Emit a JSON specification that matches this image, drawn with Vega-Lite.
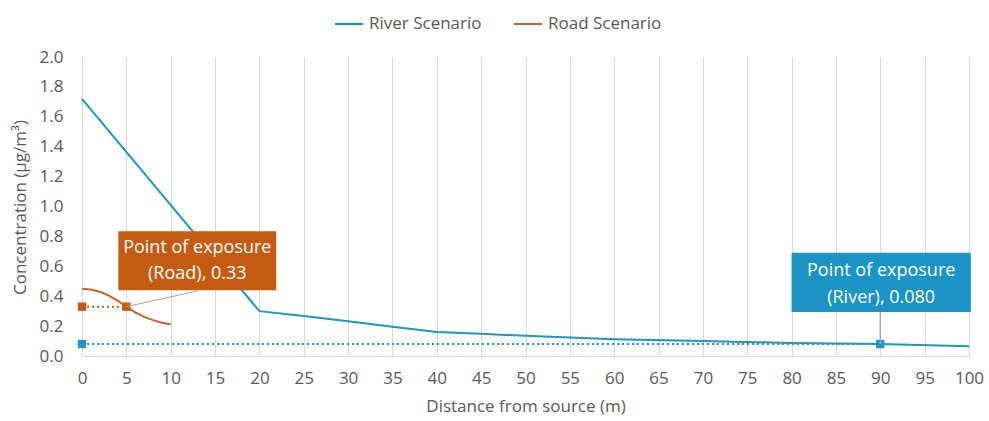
{
  "$schema": "https://vega.github.io/schema/vega-lite/v6.json",
  "width": 887,
  "height": 299,
  "autosize": {"type": "none"},
  "padding": {"left": 82, "top": 57, "right": 20, "bottom": 65},
  "config": {
    "view": {"stroke": null},
    "font": "Open Sans",
    "axis": {"labelColor": "#595959", "titleColor": "#595959", "labelFontSize": 17, "titleFontSize": 17, "titleFontWeight": "normal", "labelFont": "Open Sans", "titleFont": "Open Sans"},
    "legend": {"labelColor": "#595959", "labelFontSize": 17, "labelFont": "Open Sans"}
  },
  "datasets": {
    "series": [
      {"x": 0, "y": 1.72, "series": "River Scenario"},
      {"x": 20, "y": 0.30, "series": "River Scenario"},
      {"x": 25, "y": 0.268, "series": "River Scenario"},
      {"x": 30, "y": 0.232, "series": "River Scenario"},
      {"x": 35, "y": 0.196, "series": "River Scenario"},
      {"x": 40, "y": 0.161, "series": "River Scenario"},
      {"x": 45, "y": 0.148, "series": "River Scenario"},
      {"x": 50, "y": 0.135, "series": "River Scenario"},
      {"x": 55, "y": 0.123, "series": "River Scenario"},
      {"x": 60, "y": 0.112, "series": "River Scenario"},
      {"x": 70, "y": 0.10, "series": "River Scenario"},
      {"x": 80, "y": 0.087, "series": "River Scenario"},
      {"x": 90, "y": 0.080, "series": "River Scenario"},
      {"x": 100, "y": 0.065, "series": "River Scenario"},
      {"x": 0, "y": 0.45, "series": "Road Scenario"},
      {"x": 1, "y": 0.445, "series": "Road Scenario"},
      {"x": 2, "y": 0.43, "series": "Road Scenario"},
      {"x": 3, "y": 0.405, "series": "Road Scenario"},
      {"x": 4, "y": 0.37, "series": "Road Scenario"},
      {"x": 5, "y": 0.33, "series": "Road Scenario"},
      {"x": 6, "y": 0.292, "series": "Road Scenario"},
      {"x": 7, "y": 0.262, "series": "Road Scenario"},
      {"x": 8, "y": 0.24, "series": "Road Scenario"},
      {"x": 9, "y": 0.222, "series": "Road Scenario"},
      {"x": 10, "y": 0.21, "series": "Road Scenario"}
    ],
    "roadExposure": [{"x": 0, "y": 0.33}, {"x": 5, "y": 0.33}],
    "riverExposure": [{"x": 0, "y": 0.08}, {"x": 90, "y": 0.08}],
    "roadLeader": [{"x": 13.0, "y": 0.435, "x2": 5, "y2": 0.33}],
    "riverLeader": [{"x": 90, "y": 0.295, "x2": 90, "y2": 0.08}],
    "roadBox": [{"x": 4.1, "x2": 21.9, "y": 0.44, "y2": 0.835}],
    "riverBox": [{"x": 80.0, "x2": 100.2, "y": 0.295, "y2": 0.69}],
    "roadLabel": [{"x": 13.0, "y": 0.72, "label": "Point of exposure|(Road), 0.33"}],
    "riverLabel": [{"x": 90.1, "y": 0.567, "label": "Point of exposure|(River), 0.080"}]
  },
  "encoding": {
    "x": {"field": "x", "type": "quantitative", "scale": {"domain": [0, 100], "nice": false},
      "axis": {"values": [0,5,10,15,20,25,30,35,40,45,50,55,60,65,70,75,80,85,90,95,100], "grid": true, "gridColor": "#d9d9d9", "domainColor": "#d9d9d9", "ticks": false, "labelPadding": 14, "labelOverlap": false, "title": "Distance from source (m)", "titlePadding": 12, "labelFlush": false}},
    "y": {"field": "y", "type": "quantitative", "scale": {"domain": [0, 2], "nice": false},
      "axis": {"values": [0,0.2,0.4,0.6,0.8,1.0,1.2,1.4,1.6,1.8,2.0], "format": ".1f", "grid": false, "domain": false, "ticks": false, "labelPadding": 19, "labelOverlap": false, "title": "Concentration (µg/m³)", "titleX": -62, "titleY": 150, "titleAngle": -90, "titleBaseline": "middle", "titleAlign": "center"}}
  },
  "layer": [
    {
      "data": {"name": "series"},
      "mark": {"type": "line", "strokeWidth": 2, "interpolate": "linear"},
      "encoding": {
        "color": {"field": "series", "type": "nominal",
          "scale": {"domain": ["River Scenario", "Road Scenario"], "range": ["#1f96be", "#c1652c"]},
          "legend": {"title": null, "orient": "none", "direction": "horizontal", "legendX": 252, "legendY": -48, "symbolType": "stroke", "symbolSize": 784, "symbolStrokeWidth": 2, "columnPadding": 28, "labelOffset": 5}}
      }
    },
    {
      "data": {"name": "roadExposure"},
      "mark": {"type": "line", "color": "#c55a11", "strokeWidth": 2, "strokeDash": [2, 3]}
    },
    {
      "data": {"name": "roadExposure"},
      "mark": {"type": "point", "shape": "square", "filled": true, "color": "#c55a11", "size": 70, "opacity": 1}
    },
    {
      "data": {"name": "riverExposure"},
      "mark": {"type": "line", "color": "#1f96c3", "strokeWidth": 2, "strokeDash": [2, 3]}
    },
    {
      "data": {"name": "riverExposure"},
      "mark": {"type": "point", "shape": "square", "filled": true, "color": "#1f96c3", "size": 70, "opacity": 1}
    },
    {
      "data": {"name": "roadLeader"},
      "mark": {"type": "rule", "color": "#a6a6a6", "strokeWidth": 1},
      "encoding": {"x2": {"field": "x2"}, "y2": {"field": "y2"}}
    },
    {
      "data": {"name": "riverLeader"},
      "mark": {"type": "rule", "color": "#a6a6a6", "strokeWidth": 1.5},
      "encoding": {"x2": {"field": "x2"}, "y2": {"field": "y2"}}
    },
    {
      "data": {"name": "roadBox"},
      "mark": {"type": "rect", "color": "#c55a11"},
      "encoding": {"x2": {"field": "x2"}, "y2": {"field": "y2"}}
    },
    {
      "data": {"name": "roadLabel"},
      "mark": {"type": "text", "color": "white", "fontSize": 18, "lineBreak": "|", "lineHeight": 26, "align": "center", "baseline": "middle", "font": "Open Sans"},
      "encoding": {"text": {"field": "label"}}
    },
    {
      "data": {"name": "riverBox"},
      "mark": {"type": "rect", "color": "#1b93c4"},
      "encoding": {"x2": {"field": "x2"}, "y2": {"field": "y2"}}
    },
    {
      "data": {"name": "riverLabel"},
      "mark": {"type": "text", "color": "white", "fontSize": 18, "lineBreak": "|", "lineHeight": 27, "align": "center", "baseline": "middle", "font": "Open Sans"},
      "encoding": {"text": {"field": "label"}}
    }
  ]
}
